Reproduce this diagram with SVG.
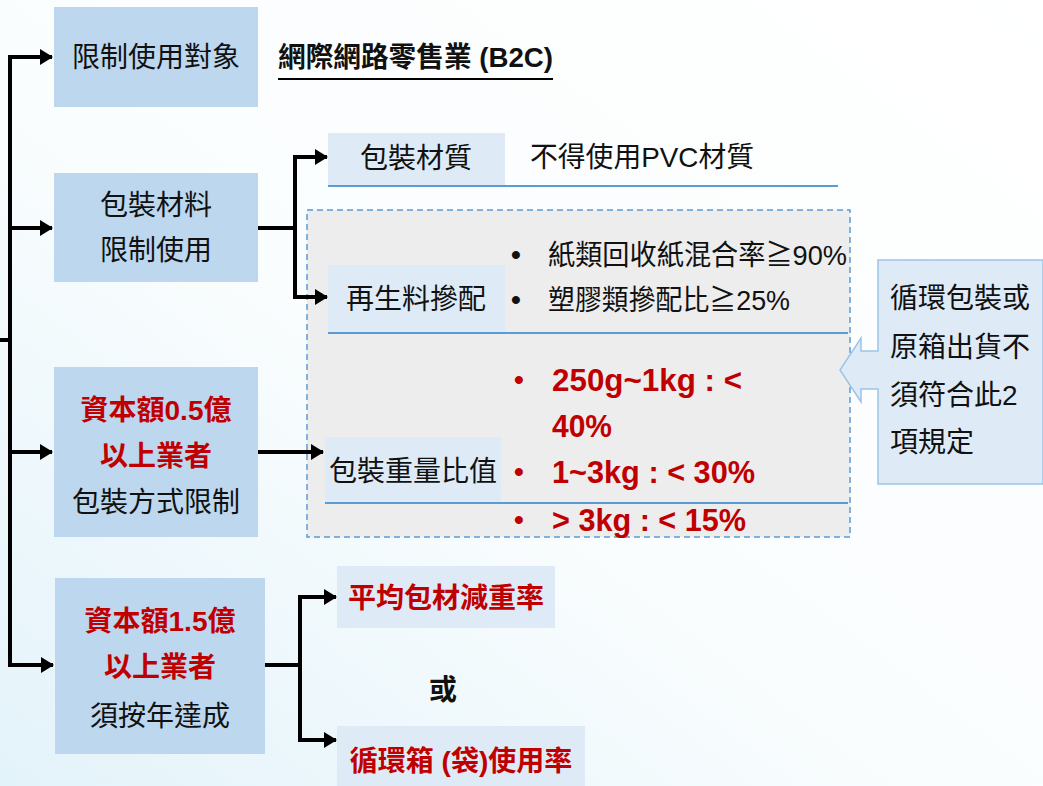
<svg xmlns="http://www.w3.org/2000/svg" width="1043" height="786" viewBox="0 0 1043 786">
<defs>
<linearGradient id="bg" x1="1" y1="0" x2="0" y2="1">
<stop offset="0" stop-color="#FFFFFF"/>
<stop offset="0.55" stop-color="#FAFDFE"/>
<stop offset="1" stop-color="#E3F3FA"/>
</linearGradient>
<marker id="ah" markerUnits="userSpaceOnUse" markerWidth="13" markerHeight="16" refX="12" refY="8" orient="auto">
<path d="M0,0 L13,8 L0,16 z" fill="#000"/>
</marker>
<style>
text{font-family:"Liberation Sans","Noto Sans CJK TC",sans-serif;font-size:28px;fill:#111;}
.c{text-anchor:middle;}
.r{fill:#C00000;font-weight:bold;}
.b{font-weight:bold;}
.big{font-size:32px;}
.dark{fill:#BDD7EE;}
.light{fill:#DEEBF7;}
.sep{stroke:#5B9BD5;stroke-width:2;fill:none;}
.con{stroke:#000;stroke-width:4;fill:none;}
</style>
</defs>
<rect width="1043" height="786" fill="url(#bg)"/>

<g id="group-dashed">
<rect x="307" y="210" width="543" height="327" fill="#EDEDED" stroke="#5B9BD5" stroke-width="1.5" stroke-dasharray="6,4"/>
</g>

<g id="connectors">
<path class="con" d="M0,340 H10"/>
<path class="con" d="M10,55 V667"/>
<path class="con" d="M8,57 H52" marker-end="url(#ah)"/>
<path class="con" d="M8,228 H52" marker-end="url(#ah)"/>
<path class="con" d="M8,452 H52" marker-end="url(#ah)"/>
<path class="con" d="M8,665 H53" marker-end="url(#ah)"/>
<path class="con" d="M258,228 H295"/>
<path class="con" d="M295,155 V299"/>
<path class="con" d="M293,157 H327" marker-end="url(#ah)"/>
<path class="con" d="M293,297 H327" marker-end="url(#ah)"/>
<path class="con" d="M258,452 H323" marker-end="url(#ah)"/>
<path class="con" d="M265,665 H300"/>
<path class="con" d="M300,595 V742"/>
<path class="con" d="M298,597 H336" marker-end="url(#ah)"/>
<path class="con" d="M298,740 H336" marker-end="url(#ah)"/>
</g>

<g id="node-target">
<rect class="dark" x="54" y="7" width="204" height="100"/>
<text class="c" x="156" y="67">限制使用對象</text>
</g>
<g id="title">
<text x="278" y="67" class="b" textLength="275" lengthAdjust="spacingAndGlyphs">網際網路零售業 (B2C)</text>
<line x1="278" y1="79" x2="553" y2="79" stroke="#000" stroke-width="2"/>
</g>

<g id="node-material">
<rect class="dark" x="54" y="173" width="204" height="109"/>
<text class="c" x="156" y="215">包裝材料</text>
<text class="c" x="156" y="260">限制使用</text>
</g>

<g id="node-quality">
<rect class="light" x="328" y="133" width="177" height="54"/>
<text class="c" x="416" y="168">包裝材質</text>
<text x="530" y="167" textLength="224" lengthAdjust="spacingAndGlyphs">不得使用PVC材質</text>
<line class="sep" x1="328" y1="186" x2="838" y2="186"/>
</g>

<g id="node-recycled">
<rect class="light" x="328" y="265" width="177" height="68"/>
<text class="c" x="416" y="309">再生料摻配</text>
<line class="sep" x1="328" y1="333" x2="848" y2="333"/>
<text class="b" x="511" y="264">•</text>
<text class="b" x="511" y="309">•</text>
<text x="548" y="265" textLength="299" lengthAdjust="spacingAndGlyphs">紙類回收紙混合率≧90%</text>
<text x="548" y="310" textLength="242" lengthAdjust="spacingAndGlyphs">塑膠類摻配比≧25%</text>
</g>

<g id="node-ratio">
<rect class="light" x="325" y="437" width="176" height="66"/>
<text class="c" x="413" y="481">包裝重量比值</text>
<line class="sep" x1="325" y1="503" x2="848" y2="503"/>
<text class="r" x="514" y="389">•</text>
<text class="r" x="514" y="481">•</text>
<text class="r" x="514" y="529">•</text>
<text class="r big" x="552" y="391" textLength="190" lengthAdjust="spacingAndGlyphs">250g~1kg : &lt;</text>
<text class="r big" x="552" y="437" textLength="60" lengthAdjust="spacingAndGlyphs">40%</text>
<text class="r big" x="552" y="483" textLength="203" lengthAdjust="spacingAndGlyphs">1~3kg : &lt; 30%</text>
<text class="r big" x="552" y="531" textLength="194" lengthAdjust="spacingAndGlyphs">&gt; 3kg : &lt; 15%</text>
</g>

<g id="node-exempt">
<path d="M878,260 H1043 V484 H878 V389 H861 V402 L840,370 L861,338 V351 H878 Z" fill="#DEEBF7" stroke="#9DC3E6" stroke-width="1.5"/>
<text x="890" y="308">循環包裝或</text>
<text x="890" y="357">原箱出貨不</text>
<text x="890" y="405">須符合此2</text>
<text x="890" y="452">項規定</text>
</g>

<g id="node-cap05">
<rect class="dark" x="54" y="367" width="204" height="170"/>
<text class="c r" x="156" y="420">資本額0.5億</text>
<text class="c r" x="156" y="466">以上業者</text>
<text class="c" x="156" y="512">包裝方式限制</text>
</g>

<g id="node-cap15">
<rect class="dark" x="55" y="578" width="210" height="176"/>
<text class="c r" x="160" y="631">資本額1.5億</text>
<text class="c r" x="160" y="677">以上業者</text>
<text class="c" x="160" y="726">須按年達成</text>
</g>

<g id="node-reduce">
<rect class="light" x="337" y="566" width="218" height="62"/>
<text class="c r" x="446" y="608">平均包材減重率</text>
</g>

<text class="b c" x="443" y="700">或</text>

<g id="node-reuse">
<rect class="light" x="337" y="726" width="248" height="60"/>
<text class="c r" x="461" y="771">循環箱 (袋)使用率</text>
</g>
</svg>
